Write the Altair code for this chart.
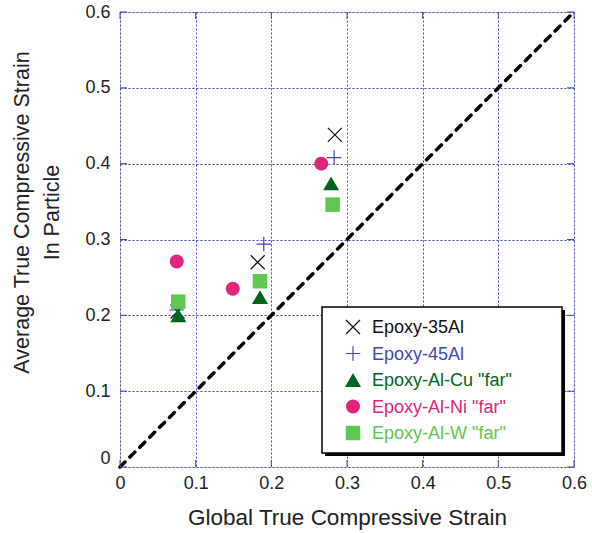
import altair as alt
import pandas as pd

# Measured strains: global (x) vs. average in particle (y)
series = ["Epoxy-35Al", "Epoxy-45Al", 'Epoxy-Al-Cu "far"', 'Epoxy-Al-Ni "far"', 'Epoxy-Al-W "far"']

x_35al = [0.076, 0.182, 0.284]
y_35al = [0.205, 0.270, 0.438]

x_45al = [0.075, 0.190, 0.283]
y_45al = [0.207, 0.294, 0.408]

x_cu = [0.077, 0.185, 0.279]
y_cu = [0.200, 0.224, 0.374]

x_ni = [0.075, 0.149, 0.266]
y_ni = [0.271, 0.235, 0.400]

x_w = [0.077, 0.185, 0.281]
y_w = [0.218, 0.245, 0.346]

ticks = [0.0, 0.1, 0.2, 0.3, 0.4, 0.5, 0.6]

colors = ["#111111", "#3f48b0", "#00661f", "#e0267a", "#5ec850"]
X_PATH = "M-1,-1L1,1M-1,1L1,-1"
PLUS_PATH = "M-1,0L1,0M0,-1L0,1"
shapes = [X_PATH, PLUS_PATH, "triangle-up", "circle", "square"]
filled = [False, False, True, True, True]
sizes = [196, 210, 256, 196, 210]

xs = [x_35al, x_45al, x_cu, x_ni, x_w]
ys = [y_35al, y_45al, y_cu, y_ni, y_w]

W, H = 454, 455
FONT = "Liberation Sans"
BLUE = "#3f48b0"

xscale = alt.Scale(domain=[0, 0.6], nice=False, zero=False)
yscale = alt.Scale(domain=[0, 0.6], nice=False, zero=False)

label_expr = "datum.value == 0 ? '0' : format(datum.value, '.1f')"

x_axis = alt.Axis(
    values=ticks, labelExpr=label_expr, title="Global True Compressive Strain",
    grid=True, gridColor=BLUE, gridDash=[2, 2], gridWidth=1, gridOpacity=1,
    tickSize=0, domain=False, labelFont=FONT, labelFontSize=18, labelColor="#222222",
    labelPadding=7, labelFlush=False, titleFont=FONT, titleFontSize=22.5,
    titleFontWeight="normal", titleColor="#222222", titleBaseline="alphabetic",
    titleY=57,
)
y_axis = alt.Axis(
    values=ticks, labelExpr=label_expr,
    title=["Average True Compressive Strain", "In Particle"],
    grid=True, gridColor=BLUE, gridDash=[2, 2], gridWidth=1, gridOpacity=1,
    tickSize=0, domain=False, labelFont=FONT, labelFontSize=18, labelColor="#222222",
    labelPadding=10, labelFlush=False,
    labelBaseline=alt.ConditionalAxisLabelBaseline(
        condition={"test": "datum.value == 0", "value": "bottom"}, value="middle"
    ),
    titleFont=FONT, titleFontSize=21.5, titleFontWeight="normal", titleColor="#222222",
    titleBaseline="alphabetic", titleLineHeight=30, titleX=-92, titleY=200, titleAngle=-90,
)

pts = []
for name, xv, yv in zip(series, xs, ys):
    for a, b in zip(xv, yv):
        pts.append({"series": name, "x": a, "y": b})
df = pd.DataFrame(pts)

layers = []

# 1:1 reference line
diag = pd.DataFrame({"x": [0.0, 0.6], "y": [0.0, 0.6]})
layers.append(
    alt.Chart(diag).mark_line(color="black", strokeWidth=3.5, strokeDash=[7, 7],
                              strokeCap="round")
    .encode(x=alt.X("x:Q", scale=xscale, axis=x_axis),
            y=alt.Y("y:Q", scale=yscale, axis=y_axis))
)

# Inward tick marks on all four sides of the frame
tk = pd.DataFrame({"t": ticks})
TL = 7
layers.append(alt.Chart(tk).mark_rule(color=BLUE, strokeWidth=1).encode(
    y=alt.Y("t:Q", scale=yscale), x=alt.value(0), x2=alt.value(TL)))
layers.append(alt.Chart(tk).mark_rule(color=BLUE, strokeWidth=1).encode(
    y=alt.Y("t:Q", scale=yscale), x=alt.value(W - TL), x2=alt.value(W)))
layers.append(alt.Chart(tk).mark_rule(color=BLUE, strokeWidth=1).encode(
    x=alt.X("t:Q", scale=xscale), y=alt.value(H - TL), y2=alt.value(H)))
layers.append(alt.Chart(tk).mark_rule(color=BLUE, strokeWidth=1).encode(
    x=alt.X("t:Q", scale=xscale), y=alt.value(0), y2=alt.value(TL)))

# Data points, one layer per series
for name, col, shp, fl, sz in zip(series, colors, shapes, filled, sizes):
    d = df[df["series"] == name]
    if fl:
        mk = alt.Chart(d).mark_point(shape=shp, filled=True, fill=col, color=col,
                                     size=sz, opacity=1, strokeWidth=0)
    else:
        mk = alt.Chart(d).mark_point(shape=shp, filled=False, color=col,
                                     size=sz, opacity=1, strokeWidth=1.2)
    layers.append(mk.encode(x=alt.X("x:Q", scale=xscale),
                            y=alt.Y("y:Q", scale=yscale)))

# Legend box with drop shadow
LX0, LY0, LX1, LY1 = 202, 295, 442, 441
layers.append(alt.Chart(tk.head(1)).mark_rect(color="black").encode(
    x=alt.value(LX0 + 3), x2=alt.value(LX1 + 3), y=alt.value(LY0 + 3), y2=alt.value(LY1 + 3)))
layers.append(alt.Chart(tk.head(1)).mark_rect(fill="white", stroke="black", strokeWidth=1.5).encode(
    x=alt.value(LX0), x2=alt.value(LX1), y=alt.value(LY0), y2=alt.value(LY1)))

row0, row_step = 315, 26.5
for i, (name, col, shp, fl, sz) in enumerate(zip(series, colors, shapes, filled, sizes)):
    ry = row0 + i * row_step
    one = pd.DataFrame({"label": [name]})
    if fl:
        sym = alt.Chart(one).mark_point(shape=shp, filled=True, fill=col, color=col,
                                        size=sz, opacity=1, strokeWidth=0)
    else:
        sym = alt.Chart(one).mark_point(shape=shp, filled=False, color=col,
                                        size=sz, opacity=1, strokeWidth=1.2)
    layers.append(sym.encode(x=alt.value(233), y=alt.value(ry)))
    layers.append(
        alt.Chart(one).mark_text(align="left", baseline="middle", font=FONT,
                                 fontSize=18, color=col)
        .encode(text="label:N", x=alt.value(252), y=alt.value(ry + 1))
    )

chart = alt.layer(*layers).properties(
    width=W, height=H,
    autosize=alt.AutoSizeParams(type="none"),
    padding={"left": 120, "top": 12, "right": 18, "bottom": 66},
).configure_view(stroke=BLUE, strokeWidth=1.2).configure(background="white")

chart.save("out.html", embed_options={"renderer": "svg", "actions": False})
